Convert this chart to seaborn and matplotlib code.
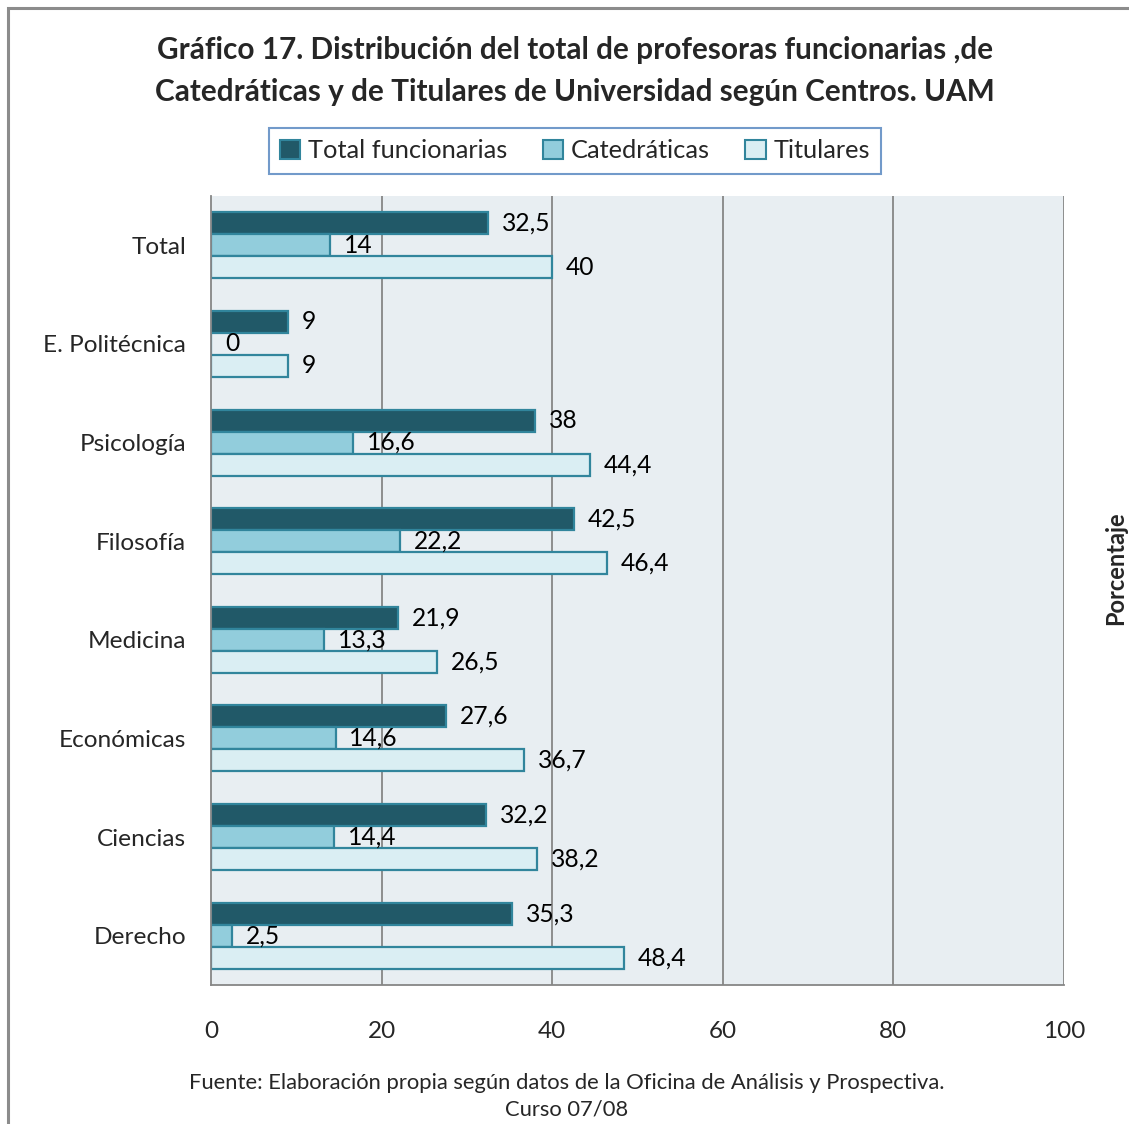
import numpy as np
import pandas as pd
import matplotlib.pyplot as plt
import seaborn as sns
from matplotlib.patches import Rectangle, Patch

centros = ['Total', 'E. Politécnica', 'Psicología', 'Filosofía',
           'Medicina', 'Económicas', 'Ciencias', 'Derecho']
series = ['Total funcionarias', 'Catedráticas', 'Titulares']
total_funcionarias = [32.5, 9, 38, 42.5, 21.9, 27.6, 32.2, 35.3]
catedraticas = [14, 0, 16.6, 22.2, 13.3, 14.6, 14.4, 2.5]
titulares = [40, 9, 44.4, 46.4, 26.5, 36.7, 38.2, 48.4]
xticks = [0, 20, 40, 60, 80, 100]

colors = ['#215968', '#92CDDC', '#DAEEF3']
edge = '#31859C'
grey = '#868686'

df = pd.DataFrame({
    'Centro': centros * 3,
    'Serie': [s for s in series for _ in centros],
    'Valor': total_funcionarias + catedraticas + titulares,
})

sns.set_style('white')
plt.rcParams['font.family'] = ['Lato', 'DejaVu Sans']

W, H = 1129, 1124
fig = plt.figure(figsize=(W / 100, H / 100), dpi=100)

# outer frame (right and bottom edges fall outside the picture)
fig.patches.append(Rectangle((8 / W, -0.1), 1.2, (H - 8) / H + 0.1,
                             transform=fig.transFigure, fill=False,
                             edgecolor='#8C8C8C', linewidth=2.2))

ax = fig.add_axes([211 / W, (H - 985) / H, (1064 - 211) / W, (985 - 196) / H])
ax.set_facecolor('#E8EEF2')

sns.barplot(data=df, y='Centro', x='Valor', hue='Serie', order=centros,
            hue_order=series, palette=colors, orient='h', width=0.67,
            edgecolor=edge, linewidth=1.6, saturation=1, legend=False, ax=ax)

def fmt(v):
    return str(int(v)) if float(v).is_integer() else f'{v:.1f}'.replace('.', ',')

for cont in ax.containers:
    ax.bar_label(cont, labels=[fmt(b.get_width()) for b in cont],
                 padding=10, fontsize=17.7, color='black')

ax.set_xlim(0, 100)
ax.set_ylim(7.5, -0.5)
ax.set_xticks(xticks)
ax.set_xticklabels([str(t) for t in xticks], fontsize=17.5)
ax.tick_params(axis='x', length=9, width=1.3, color=grey, pad=17, direction='out')
ax.set_yticks(range(len(centros)))
ax.set_yticklabels(centros, fontsize=17.6)
ax.set_yticks(np.arange(-0.5, len(centros), 1), minor=True)
ax.tick_params(axis='y', which='major', length=0, pad=18)
ax.tick_params(axis='y', which='minor', length=6, width=1.3, color=grey,
               direction='out')
ax.set_xlabel('')
ax.set_ylabel('')
for t in xticks[1:]:
    ax.axvline(t, color=grey, linewidth=1.3, zorder=0)
ax.set_axisbelow(True)
for s in ['top', 'right']:
    ax.spines[s].set_visible(False)
for s in ['left', 'bottom']:
    ax.spines[s].set_color(grey)
    ax.spines[s].set_linewidth(1.3)

fig.text(575 / W, 1 - 50 / H,
         'Gráfico 17. Distribución del total de profesoras funcionarias ,de',
         ha='center', va='center', fontsize=21.4, fontweight='bold')
fig.text(575 / W, 1 - 92 / H,
         'Catedráticas y de Titulares de Universidad según Centros. UAM',
         ha='center', va='center', fontsize=21.4, fontweight='bold')

handles = [Patch(facecolor=c, edgecolor=edge, linewidth=1.5) for c in colors]
leg = fig.legend(handles, series, loc='center', ncol=3,
                 bbox_to_anchor=(575 / W, 1 - 151 / H), fontsize=18.3,
                 frameon=True, fancybox=False, handlelength=0.8,
                 handleheight=0.8, handletextpad=0.3, columnspacing=1.4,
                 borderpad=0.45)
leg.get_frame().set_edgecolor('#4F81BD')
leg.get_frame().set_linewidth(1.5)

fig.text(1116 / W, 1 - 568 / H, 'Porcentaje', rotation=90, ha='center',
         va='center', fontsize=17, fontweight='bold')

fig.text(567 / W, 1 - 1083 / H,
         'Fuente: Elaboración propia según datos de la Oficina de Análisis y Prospectiva.',
         ha='center', va='center', fontsize=15.8)
fig.text(567 / W, 1 - 1110 / H, 'Curso 07/08', ha='center', va='center',
         fontsize=15.8)

plt.savefig('out.png', dpi=100)
